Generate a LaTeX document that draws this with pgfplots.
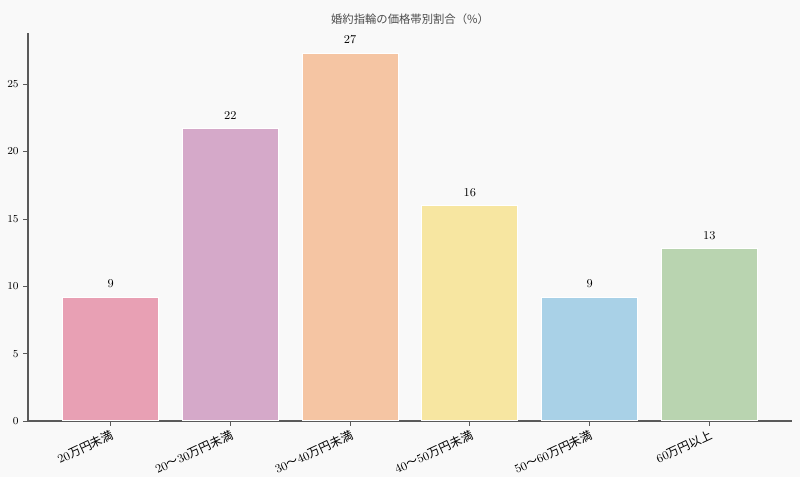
\documentclass[border=0pt]{standalone}
\usepackage{fontspec}
\usepackage{pgfplots}
\pgfplotsset{compat=1.18}
\newfontfamily\cjk{Noto Sans CJK JP}

\definecolor{bgc}{HTML}{F9F9F9}
\definecolor{spine}{HTML}{5A5A5A}
\definecolor{cA}{HTML}{E8A0B4}
\definecolor{cB}{HTML}{D5A9C9}
\definecolor{cC}{HTML}{F5C5A3}
\definecolor{cD}{HTML}{F7E6A1}
\definecolor{cE}{HTML}{A9D1E7}
\definecolor{cF}{HTML}{B9D4B0}

\begin{document}
\begin{tikzpicture}
% background, 1px = 0.75pt
\fill[bgc] (-21pt,-42pt) rectangle (582pt,315.75pt);
\begin{axis}[
    at={(0,0)}, anchor=south west,
    scale only axis,
    width=573pt, height=291pt,
    xmin=-0.69, xmax=5.69,
    ymin=0, ymax=28.8,
    axis lines*=left,
    axis line style={spine, line width=0.8pt},
    ytick={0,5,10,15,20,25},
    xtick={0,1,2,3,4,5},
    xticklabels={
        20{\cjk 万円未満},
        20{\cjk ～}30{\cjk 万円未満},
        30{\cjk ～}40{\cjk 万円未満},
        40{\cjk ～}50{\cjk 万円未満},
        50{\cjk ～}60{\cjk 万円未満},
        60{\cjk 万円以上}},
    xticklabel style={rotate=25, anchor=north east, font=\fontsize{9}{10}\selectfont, inner sep=1pt, yshift=-1pt},
    yticklabel style={font=\fontsize{8.5}{9}\selectfont},
    tick style={spine, line width=0.6pt},
    major tick length=3.5pt,
    tick align=outside,
    title={\cjk 婚約指輪の価格帯別割合（\%）},
    title style={font=\fontsize{8.5}{10}\selectfont, text=black!70, at={(0.5,1)}, anchor=south, yshift=-3pt},
    ybar, bar width=0.8, bar shift=0pt,
    nodes near coords,
    point meta=explicit symbolic,
    nodes near coords style={font=\fontsize{9}{10}\selectfont, yshift=3pt},
]
\addplot[fill=cA, draw=white, line width=0.75pt] coordinates {(0,9.2) [9]};
\addplot[fill=cB, draw=white, line width=0.75pt] coordinates {(1,21.7) [22]};
\addplot[fill=cC, draw=white, line width=0.75pt] coordinates {(2,27.3) [27]};
\addplot[fill=cD, draw=white, line width=0.75pt] coordinates {(3,16.0) [16]};
\addplot[fill=cE, draw=white, line width=0.75pt] coordinates {(4,9.2) [9]};
\addplot[fill=cF, draw=white, line width=0.75pt] coordinates {(5,12.8) [13]};
\end{axis}
\pgfresetboundingbox
\path[use as bounding box] (-21pt,-42pt) rectangle (579pt,315.75pt);
\end{tikzpicture}
\end{document}
